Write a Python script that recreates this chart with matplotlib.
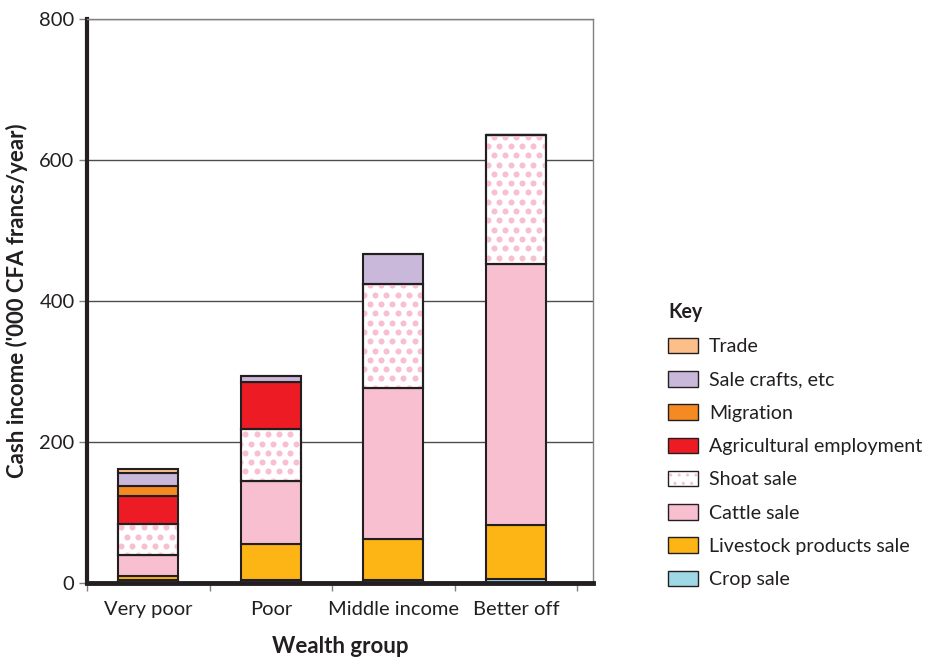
import numpy as np
import matplotlib
matplotlib.use("Agg")
import matplotlib.pyplot as plt
from matplotlib.patches import Patch
from matplotlib.legend_handler import HandlerTuple

plt.rcParams['font.family'] = ['Lato', 'DejaVu Sans']

# values ('000 CFA francs/year)
groups = ['Very poor', 'Poor', 'Middle income', 'Better off']
crop_sale = [4, 4, 4, 5]
livestock_products = [6, 52, 58, 77]
cattle_sale = [30, 89, 214, 371]
shoat_sale = [44, 74, 148, 182]
agri_employment = [40, 66, 0, 0]
migration = [14, 0, 0, 0]
sale_crafts = [18, 9, 43, 0]
trade = [6, 0, 0, 0]

dark = '#231F20'
pink = '#F7BFD0'

# stacking order, bottom to top
layers = [
    ('Crop sale', crop_sale, '#A0D9E6'),
    ('Livestock products sale', livestock_products, '#FDB515'),
    ('Cattle sale', cattle_sale, pink),
    ('Shoat sale', shoat_sale, 'white'),
    ('Agricultural employment', agri_employment, '#ED1C24'),
    ('Migration', migration, '#F58A22'),
    ('Sale crafts, etc', sale_crafts, '#C9B8DA'),
    ('Trade', trade, '#FDBF8A'),
]

fig = plt.figure(figsize=(9.26, 6.57), dpi=100)
ax = fig.add_axes([0.094, 0.1126, 0.5464, 0.8585])

x = np.arange(len(groups))
width = 0.49
bottom = np.zeros(len(groups))

# dot grid for the shoat pattern (axes fraction)
ax_w = 0.5464 * 926
ax_h = 0.8585 * 657
dx = 11.3 / ax_w
dy = 9.3 / ax_h
dot_x, dot_y = [], []
for i, yy in enumerate(np.arange(0, 1, dy)):
    xs = np.arange(0, 1, dx) + (dx / 2 if i % 2 else 0)
    dot_x.extend(xs)
    dot_y.extend([yy] * len(xs))

handles = {}
for name, vals, col in layers:
    vals = np.array(vals, dtype=float)
    bars = ax.bar(x, vals, width, bottom=bottom, color=col, edgecolor=dark,
                  linewidth=1.5, zorder=2)
    if name == 'Shoat sale':
        for b in bars:
            if b.get_height() <= 0:
                continue
            sc = ax.scatter(dot_x, dot_y, s=19, color=pink, linewidths=0,
                            transform=ax.transAxes, zorder=2.2)
            sc.set_clip_path(b)
        ax.bar(x, vals, width, bottom=bottom, fill=False, edgecolor=dark,
               linewidth=1.5, zorder=2.4)
        # thicker hatch stroke so the legend dots read like the bar pattern
        with plt.rc_context({'hatch.linewidth': 2.8}):
            dots = Patch(facecolor='white', edgecolor=pink, hatch='..', linewidth=0)
        handles[name] = (dots, Patch(facecolor='none', edgecolor=dark, linewidth=1))
    else:
        handles[name] = Patch(facecolor=col, edgecolor=dark, linewidth=1)
    bottom += vals

ax.set_ylim(0, 800)
ax.set_xlim(-0.5, 3.63)
ax.set_yticks([0, 200, 400, 600, 800])
ax.set_xticks(x)
ax.set_xticklabels(groups)
ax.set_xticks(np.arange(-0.5, 4, 1), minor=True)
ax.tick_params(axis='x', which='major', length=0, pad=13, labelsize=14.5, labelcolor=dark)
ax.tick_params(axis='x', which='minor', length=6, color='#808080', width=1)
ax.tick_params(axis='y', length=6, color='#808080', width=1, pad=3, labelsize=14.5, labelcolor=dark)

ax.yaxis.grid(True, color='#4d4d4d', linewidth=1)
ax.set_axisbelow(True)

ax.spines['left'].set_linewidth(3)
ax.spines['left'].set_color(dark)
ax.spines['bottom'].set_linewidth(3.5)
ax.spines['bottom'].set_color(dark)
for s in ['top', 'right']:
    ax.spines[s].set_linewidth(1)
    ax.spines[s].set_color('#808080')

ax.set_ylabel("Cash income ('000 CFA francs/year)", fontsize=16, fontweight='bold',
              color=dark, labelpad=8)
ax.set_xlabel('Wealth group', fontsize=16, fontweight='bold', color=dark, labelpad=13)

order = [name for name, _, _ in layers][::-1]
leg = fig.legend([handles[n] for n in order], order, loc='upper left',
                 bbox_to_anchor=(0.713, 0.552), frameon=False, fontsize=14.1,
                 title='Key', title_fontproperties={'weight': 'bold', 'size': 14.1},
                 alignment='left', handlelength=1.55, handleheight=0.85,
                 handletextpad=0.55, labelspacing=0.8, borderaxespad=0,
                 handler_map={tuple: HandlerTuple(ndivide=1)})
for t in leg.get_texts():
    t.set_color(dark)
leg.get_title().set_color(dark)

fig.savefig('out.png', dpi=100)
